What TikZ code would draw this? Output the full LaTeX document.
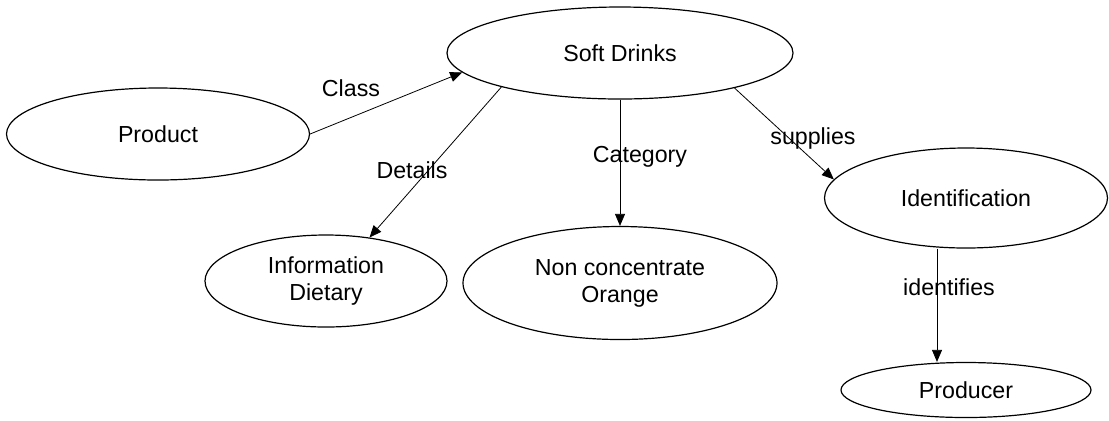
\documentclass[tikz,border=0pt]{standalone}
\usepackage{fontspec}
\setmainfont{Liberation Sans}
\usepackage{tikz}
\usetikzlibrary{shapes.geometric, arrows.meta}
\tikzset{
    bolla/.style = {ellipse, draw=black, line width=0.6pt, inner sep=0pt, align=center},
    relazione/.style = {inner sep=0pt},
    freccia/.style = {arrows = {-Triangle[length=6pt, width=5pt]}, line width=0.4pt}
}

\begin{document}
\begin{tikzpicture}[
        x=0.5pt, y=-0.5pt,
        font=\fontsize{11.6}{13.5}\selectfont
    ]
    \useasboundingbox (0,0) rectangle (1109,420);

    \node[bolla, minimum width=173pt, minimum height=46pt]   (soft)     at (620,53)  {Soft Drinks};
    \node[bolla, minimum width=151.5pt, minimum height=46pt] (product)  at (158,134) {Product};
    \node[bolla, minimum width=121pt, minimum height=46pt]   (info)     at (326,281) {Information\\Dietary};
    \node[bolla, minimum width=157pt, minimum height=56.5pt] (orange)   at (620,283) {Non concentrate\\Orange};
    \node[bolla, minimum width=141.5pt, minimum height=50pt] (ident)    at (966,198) {Identification};
    \node[bolla, minimum width=125pt, minimum height=27.5pt] (producer) at (966,390) {Producer};

    \draw[freccia] (product.east) -- (soft.187);
    \draw[freccia] (soft.196) -- (info.45);
    \draw[freccia] (soft.south) -- (orange.north);
    \draw[freccia] (soft.-17) -- (ident.172);
    \draw[freccia] ([xshift=-14.5pt]ident.south) -- ([xshift=-14.5pt]producer.north);

    \node[relazione] (class)      at (351,88)  {Class};
    \node[relazione] (details)    at (412,170) {Details};
    \node[relazione] (category)   at (640,157) {Category};
    \node[relazione] (supplies)   at (813,138) {supplies};
    \node[relazione] (identifies) at (949,287) {identifies};

\end{tikzpicture}
\end{document}
